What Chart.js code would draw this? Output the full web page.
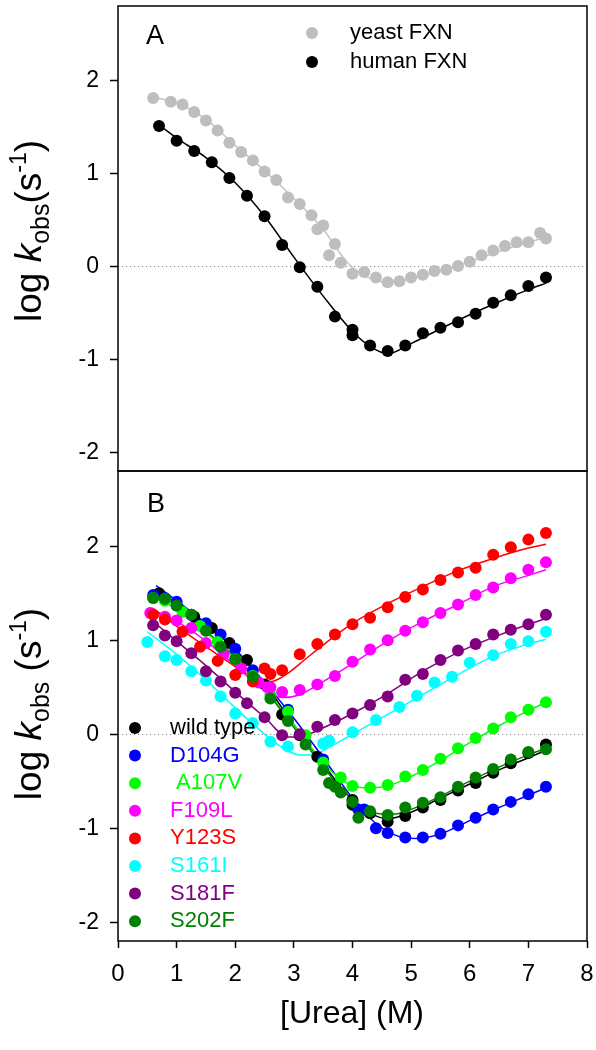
<!DOCTYPE html>
<html>
<head>
<meta charset="utf-8">
<script src="https://cdn.jsdelivr.net/npm/chart.js@4.4.1/dist/chart.umd.min.js"></script>
<style>
  html, body { margin: 0; padding: 0; background: #fff; }
  #wrap { position: relative; width: 596px; height: 1050px; }
  canvas { position: absolute; left: 0; top: 0; }
</style>
</head>
<body>
<div id="wrap">
  <canvas id="cA" width="596" height="1050"></canvas>
  <canvas id="cB" width="596" height="1050"></canvas>
</div>
<script>
// ---------- DATA ----------
const xTicks = [0, 1, 2, 3, 4, 5, 6, 7, 8];
const yTicks = [-2, -1, 0, 1, 2];

// Panel A
const yeastX = [0.6,0.9,1.1,1.3,1.5,1.7,1.9,2.1,2.3,2.5,2.7,2.9,3.1,3.3,3.4,3.5,3.6,3.7,3.8,4.0,4.2,4.4,4.6,4.8,5.0,5.2,5.4,5.6,5.8,6.0,6.2,6.4,6.6,6.8,7.0,7.2,7.3];
const yeastY = [1.81,1.77,1.74,1.66,1.57,1.46,1.33,1.23,1.14,1.02,0.93,0.74,0.67,0.55,0.40,0.44,0.12,0.24,0.04,-0.08,-0.06,-0.12,-0.17,-0.16,-0.12,-0.09,-0.05,-0.035,0.005,0.05,0.12,0.17,0.22,0.26,0.26,0.36,0.30];
const yeastFitX = [0.6,1.0,1.5,2.0,2.5,3.0,3.5,3.9,4.2,4.6,5.0,5.5,6.0,6.5,7.0,7.3];
const yeastFitY = [1.82,1.76,1.58,1.30,1.03,0.73,0.40,0.05,-0.10,-0.17,-0.13,-0.05,0.05,0.16,0.26,0.31];

const humanX = [0.7,1.0,1.3,1.6,1.9,2.2,2.5,2.8,3.1,3.4,3.7,4.0,4.0,4.3,4.6,4.9,5.2,5.5,5.8,6.1,6.4,6.7,7.0,7.3];
const humanY = [1.51,1.35,1.24,1.12,0.95,0.76,0.54,0.23,-0.01,-0.22,-0.54,-0.68,-0.74,-0.85,-0.91,-0.85,-0.72,-0.66,-0.60,-0.51,-0.39,-0.31,-0.21,-0.12];
const humanFitX = [0.7,1.0,1.5,2.0,2.5,3.0,3.5,4.0,4.3,4.6,5.0,5.5,6.0,6.5,7.0,7.3];
const humanFitY = [1.52,1.38,1.17,0.90,0.54,0.10,-0.32,-0.70,-0.86,-0.94,-0.83,-0.67,-0.52,-0.38,-0.25,-0.18];

// Panel B
const wtX = [0.7,1.0,1.3,1.6,1.9,2.2,2.5,2.8,3.1,3.4,3.7,4.0,4.0,4.3,4.6,4.9,5.2,5.5,5.8,6.1,6.4,6.7,7.0,7.3];
const wtY = [1.50,1.37,1.25,1.13,0.97,0.79,0.53,0.21,-0.01,-0.24,-0.54,-0.70,-0.75,-0.84,-0.93,-0.87,-0.78,-0.70,-0.60,-0.52,-0.41,-0.31,-0.20,-0.11];
const wtFitX = [0.7,1.0,1.5,2.0,2.5,3.0,3.5,4.0,4.3,4.6,5.0,5.5,6.0,6.5,7.0,7.3];
const wtFitY = [1.53,1.39,1.17,0.90,0.54,0.10,-0.32,-0.70,-0.84,-0.90,-0.83,-0.68,-0.53,-0.38,-0.25,-0.17];

const d104gX = [0.6,0.8,1.0,1.25,1.5,1.75,2.0,2.3,2.9,3.5,4.1,4.2,4.4,4.6,4.9,5.2,5.5,5.8,6.1,6.4,6.7,7.0,7.3];
const d104gY = [1.48,1.45,1.41,1.27,1.18,1.06,0.91,0.68,0.26,-0.27,-0.80,-0.80,-1.00,-1.05,-1.10,-1.10,-1.06,-0.97,-0.89,-0.80,-0.72,-0.64,-0.56];
const d104gFitX = [0.65,1.0,1.5,2.0,2.5,3.0,3.5,4.0,4.4,4.8,5.1,5.5,6.0,6.5,7.0,7.3];
const d104gFitY = [1.58,1.42,1.18,0.90,0.55,0.17,-0.25,-0.68,-0.95,-1.09,-1.11,-1.06,-0.92,-0.78,-0.65,-0.57];

const a107vX = [0.6,0.8,1.1,1.4,1.7,2.0,2.3,2.6,2.9,3.2,3.5,3.8,4.0,4.3,4.6,4.9,5.2,5.5,5.8,6.1,6.4,6.7,7.0,7.3];
const a107vY = [1.45,1.42,1.30,1.15,0.98,0.80,0.62,0.42,0.24,-0.01,-0.30,-0.46,-0.55,-0.57,-0.54,-0.45,-0.38,-0.26,-0.15,-0.04,0.06,0.18,0.26,0.34];
const a107vFitX = [0.6,1.0,1.5,2.0,2.5,3.0,3.5,3.8,4.2,4.6,5.0,5.5,6.0,6.5,7.0,7.3];
const a107vFitY = [1.48,1.33,1.08,0.80,0.48,0.10,-0.30,-0.48,-0.57,-0.55,-0.45,-0.28,-0.09,0.09,0.25,0.34];

const f109lX = [0.55,0.8,1.0,1.25,1.5,1.8,2.1,2.4,2.55,2.6,2.8,3.1,3.4,3.7,4.0,4.3,4.6,4.9,5.2,5.5,5.8,6.1,6.4,6.7,7.0,7.3];
const f109lY = [1.29,1.25,1.21,1.13,0.97,0.85,0.70,0.55,0.50,0.50,0.45,0.47,0.53,0.62,0.77,0.90,1.00,1.10,1.19,1.29,1.38,1.48,1.56,1.66,1.75,1.83];
const f109lFitX = [0.6,1.0,1.5,2.0,2.4,2.8,3.1,3.5,4.0,4.6,5.2,5.8,6.4,7.0,7.3];
const f109lFitY = [1.32,1.20,0.99,0.73,0.52,0.39,0.42,0.56,0.75,0.99,1.20,1.38,1.57,1.69,1.75];

const y123sX = [0.6,0.8,1.1,1.4,1.7,2.0,2.3,2.5,2.6,2.8,3.1,3.4,3.7,4.0,4.3,4.6,4.9,5.2,5.5,5.8,6.1,6.4,6.7,7.0,7.3];
const y123sY = [1.27,1.22,1.09,0.93,0.78,0.63,0.56,0.70,0.64,0.68,0.85,0.96,1.06,1.17,1.24,1.35,1.46,1.54,1.64,1.72,1.77,1.91,1.99,2.07,2.14];
const y123sFitX = [0.6,1.0,1.5,2.0,2.3,2.6,2.9,3.2,3.5,4.0,4.6,5.2,5.8,6.4,7.0,7.3];
const y123sFitY = [1.34,1.15,0.93,0.72,0.61,0.56,0.65,0.80,0.95,1.18,1.39,1.57,1.74,1.87,1.98,2.02];

const s161iX = [0.5,0.8,1.0,1.25,1.5,1.75,2.0,2.3,2.6,2.9,3.5,3.6,4.0,4.4,4.8,5.1,5.4,5.7,6.0,6.4,6.7,7.0,7.3];
const s161iY = [0.98,0.83,0.79,0.67,0.57,0.40,0.22,0.12,-0.08,-0.13,-0.10,-0.07,0.02,0.15,0.29,0.41,0.55,0.61,0.76,0.84,0.96,0.99,1.09];
const s161iFitX = [0.5,1.0,1.5,2.0,2.5,2.8,3.1,3.3,3.6,4.0,4.8,5.7,6.4,7.0,7.3];
const s161iFitY = [1.09,0.85,0.58,0.28,0.00,-0.14,-0.22,-0.22,-0.14,0.00,0.28,0.60,0.83,0.96,1.01];

const s181fX = [0.6,0.8,1.0,1.25,1.5,1.75,2.0,2.2,2.5,2.8,3.1,3.4,3.7,4.0,4.3,4.6,4.9,5.2,5.5,5.8,6.1,6.4,6.7,7.0,7.3];
const s181fY = [1.16,1.05,0.99,0.86,0.67,0.56,0.44,0.33,0.18,-0.01,0.00,0.08,0.15,0.22,0.31,0.40,0.58,0.64,0.79,0.89,0.96,1.06,1.11,1.17,1.27];
const s181fFitX = [0.6,1.0,1.5,2.0,2.5,2.9,3.1,3.4,4.0,4.6,5.2,5.8,6.4,7.0,7.3];
const s181fFitY = [1.20,0.99,0.73,0.45,0.18,-0.03,-0.03,0.04,0.22,0.43,0.67,0.87,1.03,1.17,1.23];

const s202fX = [0.6,0.8,1.0,1.25,1.5,1.75,2.0,2.3,2.6,2.9,3.2,3.5,3.6,3.7,3.8,4.0,4.1,4.3,4.6,4.9,5.2,5.5,5.8,6.1,6.4,6.7,7.0,7.3];
const s202fY = [1.45,1.44,1.37,1.27,1.10,0.93,0.80,0.61,0.38,0.14,-0.11,-0.38,-0.52,-0.56,-0.62,-0.72,-0.89,-0.82,-0.86,-0.78,-0.73,-0.67,-0.56,-0.46,-0.37,-0.27,-0.19,-0.16];
const s202fFitX = [0.6,1.0,1.5,2.0,2.5,3.0,3.5,4.0,4.4,4.7,5.0,5.5,6.0,6.5,7.0,7.3];
const s202fFitY = [1.50,1.36,1.10,0.82,0.48,0.07,-0.35,-0.70,-0.84,-0.85,-0.80,-0.66,-0.50,-0.35,-0.22,-0.15];

const legendA = ['yeast FXN', 'human FXN'];
const legendB = ['wild type', 'D104G', ' A107V', 'F109L', 'Y123S', 'S161I', 'S181F', 'S202F'];

// ---------- STYLE ----------
const FONT = "'Liberation Sans', Arial, Helvetica, sans-serif";
const colA = ['#BEBEBE', '#000000'];
const colB = ['#000000', '#0000FF', '#00FF00', '#FF00FF', '#FF0000', '#00FFFF', '#800080', '#008000'];

const zip = (xs, ys) => xs.map((x, i) => ({ x: x, y: ys[i] }));

function pointsDs(xs, ys, color, order) {
  return { data: zip(xs, ys), showLine: false, pointRadius: 6, pointHoverRadius: 6,
    pointBackgroundColor: color, pointBorderWidth: 0, borderWidth: 0, order: order };
}
function lineDs(xs, ys, color, order) {
  return { data: zip(xs, ys), showLine: true, pointRadius: 0, pointHoverRadius: 0, borderColor: color,
    borderWidth: 1.5, cubicInterpolationMode: 'monotone', fill: false, order: order };
}

const framePlugin = {
  id: 'frame',
  beforeDatasetsDraw(chart) {
    const { ctx, chartArea: a, scales } = chart;
    const y0 = Math.round(scales.y.getPixelForValue(0)) + 0.5;
    ctx.save();
    ctx.strokeStyle = '#8a8a8a';
    ctx.lineWidth = 1;
    ctx.setLineDash([1.2, 2.8]);
    ctx.beginPath(); ctx.moveTo(a.left, y0); ctx.lineTo(a.right, y0); ctx.stroke();
    ctx.restore();
  },
  afterDraw(chart) {
    const { ctx, chartArea: a } = chart;
    ctx.save();
    ctx.strokeStyle = '#000'; ctx.lineWidth = 1.5;
    ctx.strokeRect(a.left, a.top, a.right - a.left, a.bottom - a.top);
    ctx.restore();
  }
};

function drawYTitle(ctx, cy, spaced) {
  const parts = [
    { t: 'log ', f: '37px ' + FONT, dy: 0 },
    { t: 'k', f: 'italic 37px ' + FONT, dy: 0 },
    { t: 'obs', f: '25px ' + FONT, dy: 8 },
    { t: spaced ? ' (s' : '(s', f: '37px ' + FONT, dy: 0 },
    { t: '-1', f: '23px ' + FONT, dy: -15 },
    { t: ')', f: '37px ' + FONT, dy: 0 }
  ];
  ctx.save();
  ctx.translate(41, cy);
  ctx.rotate(-Math.PI / 2);
  ctx.fillStyle = '#000';
  ctx.textBaseline = 'alphabetic';
  ctx.textAlign = 'left';
  let total = 0;
  parts.forEach(p => { ctx.font = p.f; p.w = ctx.measureText(p.t).width; total += p.w; });
  let x = -total / 2;
  parts.forEach(p => { ctx.font = p.f; ctx.fillText(p.t, x, p.dy); x += p.w; });
  ctx.restore();
}

const textPluginA = {
  id: 'textA',
  afterDraw(chart) {
    const ctx = chart.ctx;
    ctx.save();
    ctx.fillStyle = '#000';
    ctx.font = '27px ' + FONT;
    ctx.textBaseline = 'alphabetic'; ctx.textAlign = 'left';
    ctx.fillText('A', 146, 44);
    const ly = [33, 62];
    legendA.forEach((t, i) => {
      ctx.fillStyle = colA[i];
      ctx.beginPath(); ctx.arc(312, ly[i], 6, 0, Math.PI * 2); ctx.fill();
      ctx.fillStyle = '#000';
      ctx.font = '22px ' + FONT; ctx.textBaseline = 'middle';
      ctx.fillText(t, 350, ly[i]);
    });
    ctx.restore();
    drawYTitle(ctx, 231, false);
  }
};

const textPluginB = {
  id: 'textB',
  afterDraw(chart) {
    const ctx = chart.ctx;
    ctx.save();
    ctx.fillStyle = '#000';
    ctx.font = '27px ' + FONT;
    ctx.textBaseline = 'alphabetic'; ctx.textAlign = 'left';
    ctx.fillText('B', 147, 512);
    legendB.forEach((t, i) => {
      const y = 728 + i * 27.6;
      ctx.fillStyle = colB[i];
      ctx.beginPath(); ctx.arc(135, y, 6, 0, Math.PI * 2); ctx.fill();
      ctx.font = '22px ' + FONT; ctx.textBaseline = 'middle';
      ctx.fillText(t, 170, y);
    });
    ctx.fillStyle = '#000';
    ctx.font = '32px ' + FONT; ctx.textAlign = 'center'; ctx.textBaseline = 'middle';
    ctx.fillText('[Urea] (M)', 352, 1014);
    ctx.restore();
    drawYTitle(ctx, 704, true);
  }
};

function yScale() {
  return {
    type: 'linear', min: -2.2, max: 2.8,
    afterFit: s => { s.width = 118; s.paddingTop = 0; s.paddingBottom = 0; s.paddingLeft = 0; s.paddingRight = 0; },
    afterBuildTicks: s => { s.ticks = yTicks.map(v => ({ value: v })); },
    grid: { display: true, drawOnChartArea: false, drawTicks: true, tickLength: 8, tickColor: '#000', tickWidth: 1.5 },
    border: { display: false },
    ticks: { color: '#000', font: { family: FONT, size: 23 }, padding: 11, callback: v => String(v) }
  };
}

function baseOptions(extraX, padding) {
  return {
    responsive: false, animation: false, devicePixelRatio: 1,
    layout: { padding: padding },
    plugins: { legend: { display: false }, tooltip: { enabled: false } },
    scales: { x: extraX, y: yScale() }
  };
}

// Panel A
new Chart(document.getElementById('cA'), {
  type: 'scatter',
  data: { datasets: [
    lineDs(yeastFitX, yeastFitY, '#C4C4C4', 20),
    lineDs(humanFitX, humanFitY, '#000000', 19),
    pointsDs(yeastX, yeastY, colA[0], 2),
    pointsDs(humanX, humanY, colA[1], 1)
  ] },
  options: baseOptions({ type: 'linear', min: 0, max: 8, display: false },
                       { left: 0, right: 9, top: 2, bottom: 579 }),
  plugins: [framePlugin, textPluginA]
});

// Panel B
const seriesB = [
  [wtX, wtY, wtFitX, wtFitY],
  [d104gX, d104gY, d104gFitX, d104gFitY],
  [a107vX, a107vY, a107vFitX, a107vFitY],
  [f109lX, f109lY, f109lFitX, f109lFitY],
  [y123sX, y123sY, y123sFitX, y123sFitY],
  [s161iX, s161iY, s161iFitX, s161iFitY],
  [s181fX, s181fY, s181fFitX, s181fFitY],
  [s202fX, s202fY, s202fFitX, s202fFitY]
];
const dsB = [];
seriesB.forEach((s, i) => dsB.push(lineDs(s[2], s[3], colB[i], 100 - i)));
seriesB.forEach((s, i) => dsB.push(pointsDs(s[0], s[1], colB[i], 50 - i)));

new Chart(document.getElementById('cB'), {
  type: 'scatter',
  data: { datasets: dsB },
  options: baseOptions({
      type: 'linear', min: 0, max: 8,
      afterFit: s => { s.height = 109; s.paddingLeft = 0; s.paddingRight = 0; s.paddingTop = 0; s.paddingBottom = 0; },
      afterBuildTicks: s => { s.ticks = xTicks.map(v => ({ value: v })); },
      grid: { display: true, drawOnChartArea: false, drawTicks: true, tickLength: 7, tickColor: '#000', tickWidth: 1.5 },
      border: { display: false },
      ticks: { color: '#000', font: { family: FONT, size: 24 }, padding: 12, maxRotation: 0, callback: v => String(v) }
    }, { left: 0, right: 9, top: 471, bottom: 0 }),
  plugins: [framePlugin, textPluginB]
});
</script>
</body>
</html>
